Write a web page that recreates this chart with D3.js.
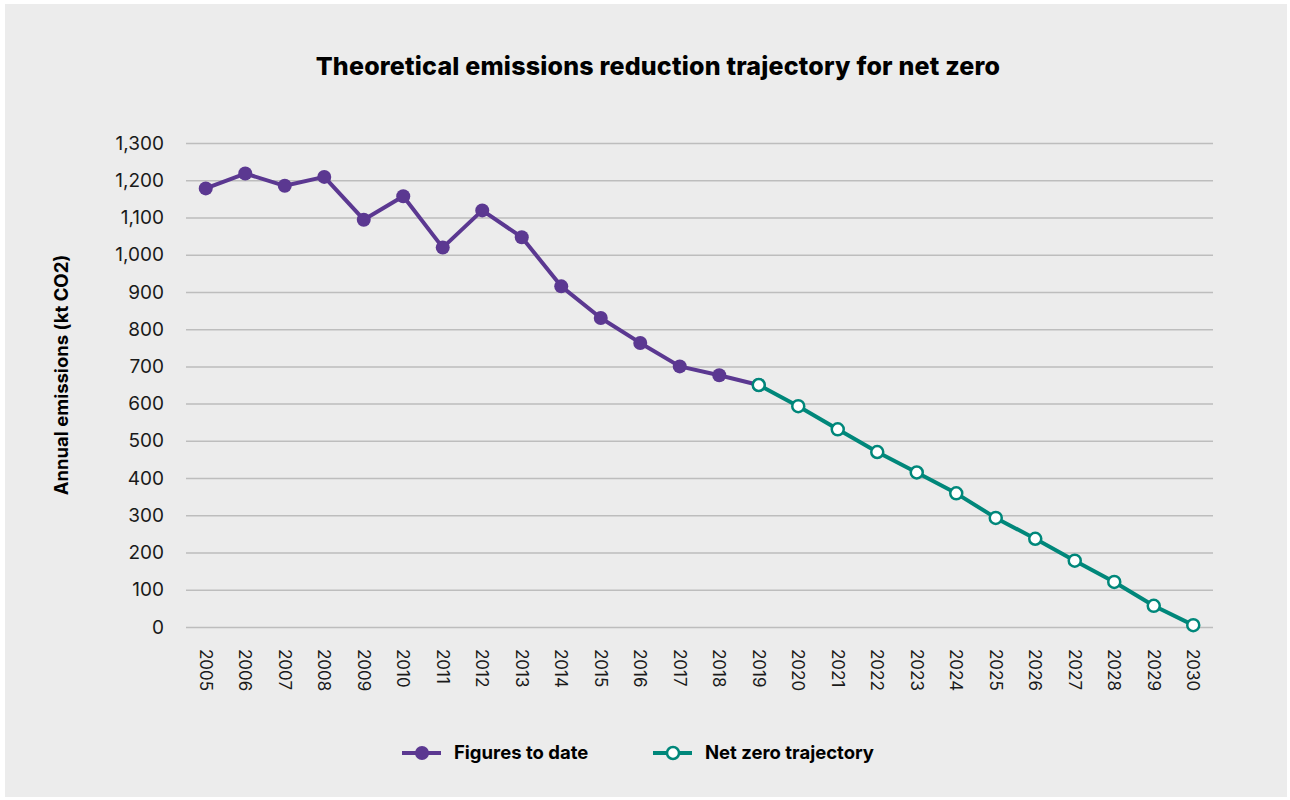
<!DOCTYPE html>
<html>
<head>
<meta charset="utf-8">
<script src="https://cdn.jsdelivr.net/npm/d3@7"></script>
<style>
    body { margin: 0; background: #fff; }
    text { font-family: Inter, "Open Sans", sans-serif; fill: #1a1a1a; }
</style>
</head>
<body>
<div id="chart"></div>
<script>
let years = ['2005', '2006', '2007', '2008', '2009', '2010', '2011', '2012', '2013',
    '2014', '2015', '2016', '2017', '2018', '2019', '2020', '2021', '2022', '2023',
    '2024', '2025', '2026', '2027', '2028', '2029', '2030'];

let figuresYears = years.slice(0, 15);
let figuresValues = [1178, 1218, 1185, 1209, 1094, 1157, 1019, 1119, 1047,
    915, 830, 763, 700, 676, 650];

let trajectoryYears = years.slice(14);
let trajectoryValues = [650, 593, 531, 470, 415, 359, 293, 237, 178, 121, 57, 5];

let yTicks = [0, 100, 200, 300, 400, 500, 600, 700, 800, 900, 1000, 1100, 1200, 1300];

let purple = '#5b3891';
let teal = '#00877a';

let svgWidth = 1290, svgHeight = 800;
let margin = { top: 143, right: 77, bottom: 173, left: 186 };
let width = svgWidth - margin.left - margin.right;
let height = svgHeight - margin.top - margin.bottom;

let root = d3.select('#chart').append('svg')
    .attr('width', svgWidth)
    .attr('height', svgHeight);

root.append('rect')
    .attr('x', 5)
    .attr('y', 4)
    .attr('width', 1282)
    .attr('height', 793)
    .attr('fill', '#ececec');

root.append('text')
    .attr('x', 658)
    .attr('y', 75)
    .attr('text-anchor', 'middle')
    .style('font-size', '25px')
    .style('font-weight', 800)
    .style('letter-spacing', '0.2px')
    .style('fill', '#000')
    .text('Theoretical emissions reduction trajectory for net zero');

let svg = root.append('g')
    .attr('transform', 'translate(' + margin.left + ',' + margin.top + ')');

let x = d3.scaleBand()
    .domain(years)
    .range([0, width]);

let y = d3.scaleLinear()
    .domain([0, 1300])
    .range([height, 0]);

// gridlines
svg.append('g')
    .attr('class', 'grid')
    .call(d3.axisLeft(y).tickValues(yTicks).tickSize(-width).tickFormat(''))
    .call(g => g.select('.domain').remove())
    .call(g => g.selectAll('line').attr('stroke', '#bdbdbd').attr('stroke-width', 1.5));

// y labels
svg.append('g')
    .attr('class', 'y-axis')
    .call(d3.axisLeft(y).tickValues(yTicks).tickSize(0).tickPadding(22).tickFormat(d3.format(',')))
    .call(g => g.select('.domain').remove())
    .call(g => g.selectAll('text').style('font-size', '19px').style('fill', '#1a1a1a'));

// x labels, rotated
svg.append('g')
    .attr('class', 'x-axis')
    .attr('transform', 'translate(0,' + height + ')')
    .call(d3.axisBottom(x).tickSize(0).tickPadding(0))
    .call(g => g.select('.domain').remove())
    .call(g => g.selectAll('text')
        .style('font-size', '17px')
        .style('fill', '#1a1a1a')
        .attr('text-anchor', 'start')
        .attr('dy', '0.35em')
        .attr('transform', 'translate(0,22) rotate(90)'));

root.append('text')
    .attr('transform', 'translate(68,375) rotate(-90)')
    .attr('text-anchor', 'middle')
    .style('font-size', '18.5px')
    .style('font-weight', 700)
    .style('fill', '#000')
    .text('Annual emissions (kt CO2)');

let cx = d => x(d) + x.bandwidth() / 2;

let figures = figuresYears.map((d, i) => ({ year: d, value: figuresValues[i] }));
let trajectory = trajectoryYears.map((d, i) => ({ year: d, value: trajectoryValues[i] }));

let line = d3.line()
    .x(d => cx(d.year))
    .y(d => y(d.value));

svg.append('path')
    .datum(figures)
    .attr('fill', 'none')
    .attr('stroke', purple)
    .attr('stroke-width', 4)
    .attr('stroke-linejoin', 'round')
    .attr('d', line);

svg.selectAll('.fig-dot')
    .data(figures)
    .enter().append('circle')
    .attr('class', 'fig-dot')
    .attr('cx', d => cx(d.year))
    .attr('cy', d => y(d.value))
    .attr('r', 7)
    .attr('fill', purple);

svg.append('path')
    .datum(trajectory)
    .attr('fill', 'none')
    .attr('stroke', teal)
    .attr('stroke-width', 4)
    .attr('stroke-linejoin', 'round')
    .attr('d', line);

svg.selectAll('.traj-dot')
    .data(trajectory)
    .enter().append('circle')
    .attr('class', 'traj-dot')
    .attr('cx', d => cx(d.year))
    .attr('cy', d => y(d.value))
    .attr('r', 6)
    .attr('fill', '#fff')
    .attr('stroke', teal)
    .attr('stroke-width', 2.5);

// legend
let legendItems = [
    { label: 'Figures to date', color: purple, filled: true, x: 402 },
    { label: 'Net zero trajectory', color: teal, filled: false, x: 653 }
];

let legend = root.append('g').attr('class', 'legend');
legendItems.forEach(item => {
    let g = legend.append('g').attr('transform', 'translate(' + item.x + ',753)');
    g.append('line')
        .attr('x1', 0).attr('x2', 39)
        .attr('stroke', item.color)
        .attr('stroke-width', 4);
    g.append('circle')
        .attr('cx', 20)
        .attr('r', item.filled ? 7 : 6)
        .attr('fill', item.filled ? item.color : '#fff')
        .attr('stroke', item.filled ? 'none' : item.color)
        .attr('stroke-width', 2.5);
    g.append('text')
        .attr('x', 52)
        .attr('dy', '0.35em')
        .style('font-size', '18.5px')
        .style('font-weight', 700)
        .style('fill', '#000')
        .text(item.label);
});
</script>
</body>
</html>
